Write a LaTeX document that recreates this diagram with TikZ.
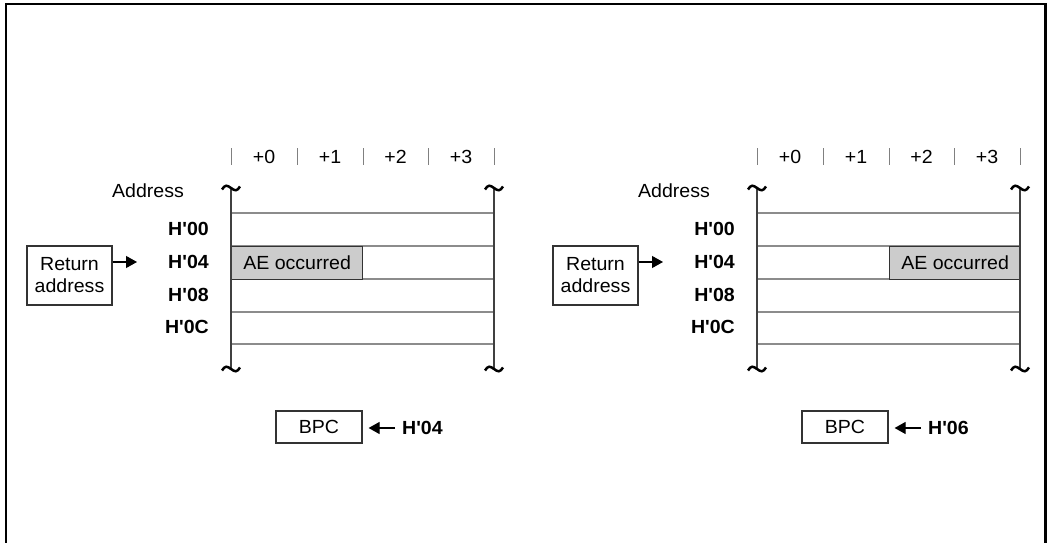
\documentclass[tikz,border=0pt]{standalone}
\usepackage{fontspec}
\setmainfont{Liberation Sans}[FakeStretch=1.03,Ligatures=TeXOff]
\usetikzlibrary{arrows.meta}
\begin{document}
\begin{tikzpicture}[>={Triangle[length=11bp,width=12bp]},
  font=\fontsize{19bp}{22bp}\selectfont,
  row/.style={draw=black!45,line width=1.2bp},
  side/.style={draw=black!75,line width=1.2bp},
  wave/.style={draw,line width=2.5bp},
  tick/.style={draw=black!50,line width=1bp},
  hex/.style={anchor=east,inner sep=0pt,font=\fontsize{19bp}{22bp}\selectfont\bfseries},
  cell/.style={draw=black!80,fill=black!20,line width=1.2bp,minimum height=33bp,inner sep=0pt,anchor=north west},
  box/.style={draw=black!80,line width=1.2bp,inner sep=0pt,align=center}]
  \useasboundingbox (0,0) rectangle (1047bp,543bp);
  %%
  \draw [line width=2.5bp] (6bp,0bp) -- (6bp,539bp) -- (1045.5bp,539bp) -- (1045.5bp,0bp);
  %% left
  \foreach \x in {231,297,363,428,494} \draw [tick] (\x bp,378bp) -- (\x bp,395bp);
  \node (C0) at (264bp,386bp) {+0};
  \node (C1) at (330bp,386bp) {+1};
  \node (C2) at (395.5bp,386bp) {+2};
  \node (C3) at (461bp,386bp) {+3};
  \node (Addr) at (148bp,352bp) {Address};
  \foreach \y in {330,297,264,231,199} \draw [row] (231bp,\y bp) -- (494bp,\y bp);
  \node (AE) at (231bp,297bp) [cell,minimum width=131bp] {AE occurred};
  \draw [side] (231bp,355bp) -- (231bp,174bp);
  \draw [side] (494bp,355bp) -- (494bp,174bp);
  \foreach \x in {231,494} \foreach \y in {355,174}
    \draw [wave] (\x bp,\y bp) ++(-9bp,-1.5bp) .. controls +(3bp,5bp) and +(-4bp,3bp) .. ++(9bp,1.5bp) .. controls +(4bp,-3bp) and +(-3bp,-5bp) .. ++(9bp,1.5bp);
  \node (H00) at (209bp,314bp) [hex] {H'00};
  \node (H04) at (209bp,281bp) [hex] {H'04};
  \node (H08) at (209bp,248bp) [hex] {H'08};
  \node (H0C) at (209bp,216bp) [hex] {H'0C};
  \node (Ret) at (69.5bp,267.5bp) [box,minimum width=85bp,minimum height=59bp] {Return\\address};
  \coordinate (RetTip) at (137bp,281bp);
  \draw [->,line width=1.2bp] (Ret.east |- RetTip) -- (RetTip);
  \node (BPC) at (319bp,116bp) [box,minimum width=86bp,minimum height=32bp] {BPC};
  \node (Val) at (402bp,115bp) [hex,anchor=west] {H'04};
  \draw [->,line width=1.2bp,shorten <=7bp,shorten >=6bp] (Val.west) -- (BPC.east |- Val.west);
  %% right
  \foreach \x in {757,823,889,954,1020} \draw [tick] (\x bp,378bp) -- (\x bp,395bp);
  \node (C'0) at (790bp,386bp) {+0};
  \node (C'1) at (856bp,386bp) {+1};
  \node (C'2) at (921.5bp,386bp) {+2};
  \node (C'3) at (987bp,386bp) {+3};
  \node (Addr') at (674bp,352bp) {Address};
  \foreach \y in {330,297,264,231,199} \draw [row] (757bp,\y bp) -- (1020bp,\y bp);
  \node (AE') at (889bp,297bp) [cell,minimum width=131bp] {AE occurred};
  \draw [side] (757bp,355bp) -- (757bp,174bp);
  \draw [side] (1020bp,355bp) -- (1020bp,174bp);
  \foreach \x in {757,1020} \foreach \y in {355,174}
    \draw [wave] (\x bp,\y bp) ++(-9bp,-1.5bp) .. controls +(3bp,5bp) and +(-4bp,3bp) .. ++(9bp,1.5bp) .. controls +(4bp,-3bp) and +(-3bp,-5bp) .. ++(9bp,1.5bp);
  \node (H'00) at (735bp,314bp) [hex] {H'00};
  \node (H'04) at (735bp,281bp) [hex] {H'04};
  \node (H'08) at (735bp,248bp) [hex] {H'08};
  \node (H'0C) at (735bp,216bp) [hex] {H'0C};
  \node (Ret') at (595.5bp,267.5bp) [box,minimum width=85bp,minimum height=59bp] {Return\\address};
  \coordinate (RetTip') at (663bp,281bp);
  \draw [->,line width=1.2bp] (Ret'.east |- RetTip') -- (RetTip');
  \node (BPC') at (845bp,116bp) [box,minimum width=86bp,minimum height=32bp] {BPC};
  \node (Val') at (928bp,115bp) [hex,anchor=west] {H'06};
  \draw [->,line width=1.2bp,shorten <=7bp,shorten >=6bp] (Val'.west) -- (BPC'.east |- Val'.west);
  %
\end{tikzpicture}
\end{document}
